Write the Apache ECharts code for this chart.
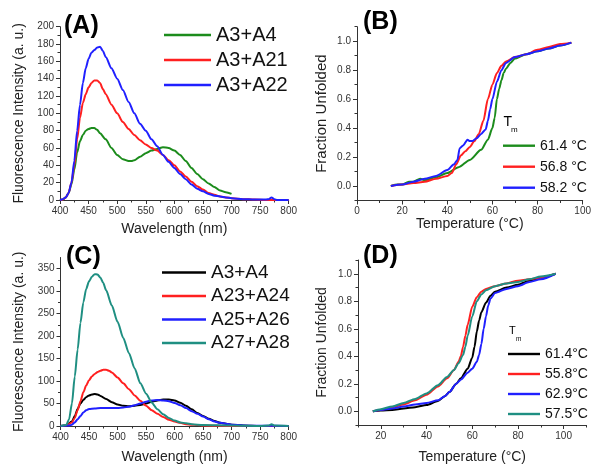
<!DOCTYPE html>
<html><head><meta charset="utf-8">
<script src="https://cdn.jsdelivr.net/npm/echarts@6/dist/echarts.min.js"></script>
<style>html,body{margin:0;padding:0;background:#fff}#c{width:594px;height:465px}</style>
</head><body><div id="c"></div>
<script>
// ---------- Panel A : fluorescence ----------
const aGreenX = [400,405,410,415,420,425,430,435,440,445,450,455,460,465,470,480,490,500,510,520,525,530,540,550,560,570,580,590,600,610,620,630,640,650,660,670,680,690,700];
const aGreenY = [0,0.5,3,8,18,35,55,68,75,80,82,83,83,81,77,70,60,52,47,45,45,46,50,54,57,59,61,60,57,52,45,37,30,24,19,15,11,9,7];
const aRedX = [400,405,410,415,420,425,430,435,440,445,450,455,460,465,470,475,480,490,500,510,520,530,540,550,560,570,580,590,600,610,620,630,640,650,660,670,680,690,700,720,740,760,780,800];
const aRedY = [0,0.5,3,8,20,40,70,95,112,122,130,135,138,138,135,128,122,110,100,90,82,75,69,64,60,57,52,46,40,33,27,21,16,12,8,6,4,3,2,1,0.5,0,0,0];
const aBlueX = [400,405,410,415,420,425,430,435,440,445,450,455,460,465,470,475,480,490,500,510,520,530,540,550,560,570,580,590,600,610,620,630,640,650,660,670,680,690,700,720,740,760,765,770,775,780,800];
const aBlueY = [0,1,3,8,20,45,80,110,135,152,163,170,173,176,177,172,165,152,140,127,113,100,88,80,70,62,52,44,37,30,24,18,13,10,7,5,4,3,2,1,0.5,0.5,1,3,1,0,0];
const aNames = ['A3+A4','A3+A21','A3+A22'];
// ---------- Panel B : melting ----------
const bGreenX = [15,18,20,23,25,28,30,35,40,45,50,55,58,60,61,62,63,64,65,66,68,70,75,80,85,90,95];
const bGreenY = [0,0.01,0.01,0.03,0.03,0.05,0.04,0.06,0.09,0.13,0.18,0.25,0.32,0.40,0.47,0.60,0.67,0.73,0.78,0.81,0.85,0.88,0.91,0.93,0.95,0.97,0.99];
const bRedX = [15,20,25,30,35,40,42,44,46,48,50,52,54,56,58,60,62,64,66,70,75,80,85,90,95];
const bRedY = [0,0.01,0.02,0.03,0.05,0.07,0.09,0.15,0.21,0.24,0.27,0.31,0.36,0.45,0.60,0.70,0.78,0.83,0.86,0.89,0.91,0.94,0.96,0.98,0.99];
const bBlueX = [15,20,25,30,35,40,43,44.5,45.5,47,49,50,51,53,55,57,58,59,60,62,64,66,70,75,80,85,90,95];
const bBlueY = [0,0.01,0.03,0.05,0.07,0.11,0.15,0.18,0.26,0.28,0.32,0.31,0.31,0.33,0.36,0.39,0.45,0.53,0.60,0.72,0.80,0.85,0.89,0.91,0.93,0.95,0.97,0.99];
const bNames = ['61.4 °C','56.8 °C','58.2 °C'];
// ---------- Panel C : fluorescence ----------
const cBlackX = [400,410,420,425,430,435,440,445,450,455,460,465,470,480,490,500,510,520,530,540,550,560,570,580,590,600,610,620,630,640,650,660,670,680,690,700,720,750,800];
const cBlackY = [0,1,10,22,38,50,58,64,68,70,71,70,67,60,53,48,45,44,45,47,50,54,57,59,59,57,52,45,37,29,22,16,11,7,5,3,1,0,0];
const cRedX = [400,410,420,425,430,435,440,445,450,455,460,465,470,475,480,485,490,500,510,520,530,540,550,560,570,580,590,600,610,620,630,640,650,700,750,800];
const cRedY = [0,1,8,18,35,55,75,90,102,110,116,120,123,125,125,123,119,108,95,82,68,56,45,35,27,20,14,10,7,4,3,2,1,0,0,0];
const cBlueX = [400,415,420,425,430,435,440,445,450,460,470,480,490,500,510,520,530,540,550,560,570,580,590,600,610,620,630,640,650,660,670,680,690,700,720,750,800];
const cBlueY = [0,1,3,8,15,22,30,35,38,39,40,40,40,40,41,43,46,50,54,57,58,57,55,51,46,40,33,27,21,15,10,7,5,3,1,0.5,0];
const cTealX = [400,410,415,420,425,430,435,440,445,450,455,460,465,470,475,480,490,500,510,520,530,540,550,560,570,580,590,600,610,620,630,650,700,750,765,770,775,800];
const cTealY = [0,2,15,50,110,170,230,275,305,322,332,338,337,330,318,302,268,232,196,162,128,95,72,52,37,26,18,12,8,6,4,2,1,0,1,4,1,0];
const cNames = ['A3+A4','A23+A24','A25+A26','A27+A28'];
// ---------- Panel D : melting ----------
const dBlackX = [16.5,20,25,30,35,40,45,48,50,53,55,58,60,61,62,63,64,66,68,70,75,80,85,90,96.5];
const dBlackY = [0,0.005,0.01,0.02,0.03,0.045,0.075,0.11,0.14,0.2,0.24,0.31,0.39,0.47,0.58,0.66,0.72,0.79,0.84,0.87,0.90,0.92,0.95,0.97,1.0];
const dRedX = [16.5,20,25,30,35,40,45,49,52,54,55,56,57,58,60,62,64,66,70,75,80,85,90,96.5];
const dRedY = [0,0.01,0.03,0.05,0.08,0.12,0.18,0.24,0.30,0.36,0.40,0.47,0.55,0.63,0.76,0.83,0.87,0.89,0.91,0.93,0.95,0.96,0.97,1.0];
const dBlueX = [16.5,20,25,30,35,40,45,48,50,53,55,58,60,62,63,64,65,66,67,68,70,75,80,85,90,96.5];
const dBlueY = [0,0.01,0.02,0.035,0.05,0.06,0.08,0.11,0.14,0.2,0.23,0.28,0.31,0.36,0.41,0.49,0.60,0.69,0.77,0.82,0.86,0.89,0.91,0.94,0.96,1.0];
const dTealX = [16.5,20,25,30,35,40,45,49,52,54,56,57,58,60,62,64,66,70,75,80,85,90,96.5];
const dTealY = [0,0.015,0.035,0.06,0.09,0.13,0.19,0.25,0.30,0.35,0.41,0.47,0.55,0.69,0.80,0.85,0.88,0.91,0.93,0.94,0.96,0.98,1.0];
const dNames = ['61.4°C','55.8°C','62.9°C','57.5°C'];
// ---------- Tick values ----------
const wlTicks = [400,450,500,550,600,650,700,750,800];
const wlMinor = [425,475,525,575,625,675,725,775];
const aYTicks = [0,20,40,60,80,100,120,140,160,180,200];
const aYMinor = [10,30,50,70,90,110,130,150,170,190];
const cYTicks = [0,50,100,150,200,250,300,350];
const cYMinor = [25,75,125,175,225,275,325];
const bXTicks = [0,20,40,60,80,100];
const bXMinor = [10,30,50,70,90];
const dXTicks = [20,40,60,80,100];
const dXMinor = [10,30,50,70,90,110];
const fracTicks = [0,0.2,0.4,0.6,0.8,1.0];
const fracMinor = [-0.1,0.1,0.3,0.5,0.7,0.9,1.1];

const FONT = "'Liberation Sans', Arial, Helvetica, sans-serif";
const AX = '#333';
const GREEN = '#1c8c1c', RED = '#ff2020', BLUE = '#2020ff', BLACK = '#000000', TEAL = '#1f8f82';

const panels = [
  {grid:{left:60,top:26.7,width:228.7,height:173.3},
   x:{min:400,max:800,major:wlTicks,minor:wlMinor,name:'Wavelength (nm)',gap:22,dec:0},
   y:{min:0,max:200,major:aYTicks,minor:aYMinor,name:'Fluorescence Intensity (a. u.)',gap:34,dec:0}},
  {grid:{left:357,top:26.7,width:228.7,height:173.8},
   x:{min:0,max:100,major:bXTicks,minor:bXMinor,name:'Temperature (°C)',gap:17,dec:0},
   y:{min:-0.1,max:1.1,major:fracTicks,minor:fracMinor,name:'Fraction Unfolded',gap:28,dec:1,nameSize:15}},
  {grid:{left:60.5,top:257.5,width:228.2,height:169},
   x:{min:400,max:800,major:wlTicks,minor:wlMinor,name:'Wavelength (nm)',gap:24,dec:0},
   y:{min:0,max:375,major:cYTicks,minor:cYMinor,name:'Fluorescence Intensity (a. u.)',gap:34,dec:0}},
  {grid:{left:358,top:260,width:228.5,height:168},
   x:{min:10,max:110,major:dXTicks,minor:dXMinor,name:'Temperature (°C)',gap:25,dec:0},
   y:{min:-0.1,max:1.1,major:fracTicks,minor:fracMinor,name:'Fraction Unfolded',gap:29,dec:1}}
];

const xAxis = [], yAxis = [];
function mainAxis(a, gi, pos){
  return {type:'value', gridIndex:gi, min:a.min, max:a.max, position:pos,
    axisLine:{show:true, onZero:false, lineStyle:{color:AX, width:1}},
    axisTick:{show:true, inside:false, length:4, customValues:a.major, lineStyle:{color:AX, width:1}},
    axisLabel:{show:true, customValues:a.major, fontSize:10, color:'#333', fontFamily:FONT, margin:6,
      formatter:v=>Number(v).toFixed(a.dec)},
    splitLine:{show:false}, minorTick:{show:false},
    name:a.name, nameLocation:'middle', nameGap:a.gap,
    nameTextStyle:{fontSize:a.nameSize||14, color:'#222', fontFamily:FONT}};
}
function minorAxis(a, gi, pos){
  return {type:'value', gridIndex:gi, min:a.min, max:a.max, position:pos,
    axisLine:{show:false, onZero:false},
    axisTick:{show:true, inside:false, length:2.5, customValues:a.minor, lineStyle:{color:AX, width:1}},
    axisLabel:{show:false}, splitLine:{show:false}};
}
panels.forEach((p,i)=>{
  xAxis.push(mainAxis(p.x,i,'bottom')); xAxis.push(minorAxis(p.x,i,'bottom'));
  yAxis.push(mainAxis(p.y,i,'left')); yAxis.push(minorAxis(p.y,i,'left'));
});

function zip(xs, ys){ return xs.map((x,k)=>[x, ys[k]]); }
function line(prefix, name, xs, ys, color, gi){
  return {type:'line', name:prefix+name, xAxisIndex:gi*2, yAxisIndex:gi*2, data:zip(xs,ys),
    symbol:'none', smooth:0.25, smoothMonotone:'x', color:color,
    lineStyle:{color:color, width:2}, emphasis:{disabled:true}, animation:false};
}
const series = [
  line('A:', aNames[0], aGreenX, aGreenY, GREEN, 0),
  line('A:', aNames[1], aRedX, aRedY, RED, 0),
  line('A:', aNames[2], aBlueX, aBlueY, BLUE, 0),
  line('B:', bNames[0], bGreenX, bGreenY, GREEN, 1),
  line('B:', bNames[1], bRedX, bRedY, RED, 1),
  line('B:', bNames[2], bBlueX, bBlueY, BLUE, 1),
  line('C:', cNames[0], cBlackX, cBlackY, BLACK, 2),
  line('C:', cNames[1], cRedX, cRedY, RED, 2),
  line('C:', cNames[2], cBlueX, cBlueY, BLUE, 2),
  line('C:', cNames[3], cTealX, cTealY, TEAL, 2),
  line('D:', dNames[0], dBlackX, dBlackY, BLACK, 3),
  line('D:', dNames[1], dRedX, dRedY, RED, 3),
  line('D:', dNames[2], dBlueX, dBlueY, BLUE, 3),
  line('D:', dNames[3], dTealX, dTealY, TEAL, 3)
];

function legend(prefix, names, left, top, w, size, gap){
  return {orient:'vertical', left:left, top:top, padding:0, itemWidth:w, itemHeight:2.4, itemGap:gap,
    icon:'rect', selectedMode:false, data:names.map(n=>prefix+n), formatter:n=>n.slice(2),
    textStyle:{fontSize:size, lineHeight:size, color:'#111', fontFamily:FONT, padding:[0,0,0,0]}};
}
const legends = [
  legend('A:', aNames, 164, 25, 47, 20, 5),
  legend('B:', bNames, 503, 138.7, 32, 14, 7),
  legend('C:', cNames, 162, 263, 44, 19, 4.5),
  legend('D:', dNames, 508, 347, 32, 14, 6)
];

function txt(t, x, y, size, bold){
  return {type:'text', x:x, y:y, silent:true,
    style:{text:t, fill:'#000', font:(bold?'bold ':'')+size+'px '+FONT,
      align:'left', verticalAlign:'middle', textAlign:'left', textVerticalAlign:'middle'}};
}
const graphic = [
  txt('(A)', 64, 26, 25, true),
  txt('(B)', 363, 22.5, 25, true),
  txt('(C)', 66, 257, 25, true),
  txt('(D)', 363, 256.5, 25, true),
  txt('T', 503.5, 122.5, 14, false),
  txt('m', 511, 129.5, 8, false),
  txt('T', 509, 330.5, 11, false),
  txt('m', 516, 339.5, 6.5, false)
];

const chart = echarts.init(document.getElementById('c'), null, {renderer:'canvas'});
chart.setOption({
  animation:false, backgroundColor:'#fff',
  textStyle:{fontFamily:FONT},
  grid: panels.map(p=>Object.assign({containLabel:false}, p.grid)),
  xAxis: xAxis, yAxis: yAxis, series: series, legend: legends, graphic: graphic
});
</script></body></html>
